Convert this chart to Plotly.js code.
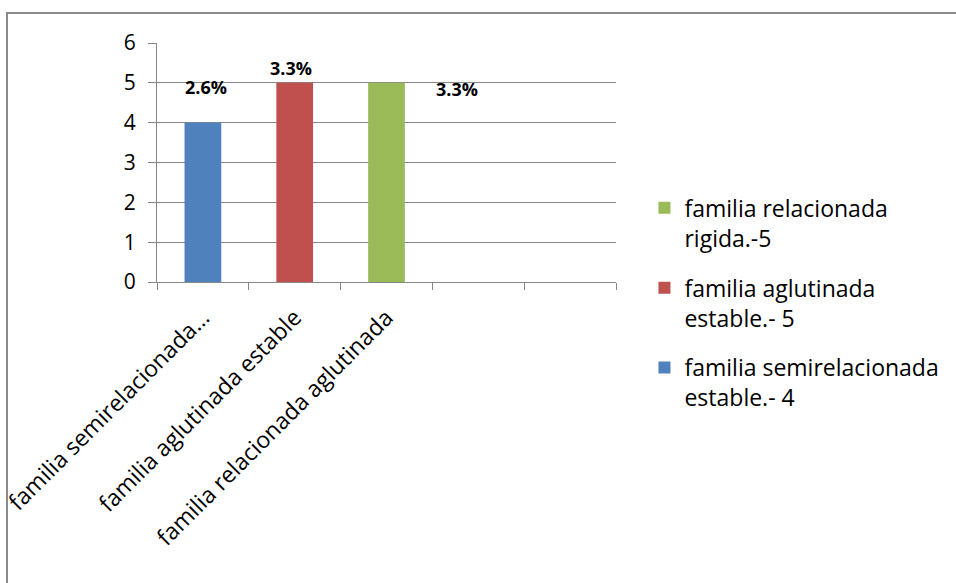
<!DOCTYPE html>
<html>
<head>
<meta charset="utf-8">
<script src="https://cdn.plot.ly/plotly-3.0.1.min.js"></script>
<style>
  html, body { margin: 0; padding: 0; background: #ffffff; }
  #chart { width: 956px; height: 583px; }
  #frame { position: absolute; left: 6px; top: 12px; width: 1200px; height: 1200px;
           border-left: 2px solid #8a8a8a; border-top: 2px solid #8a8a8a; pointer-events: none; }
</style>
</head>
<body>
<div id="chart"></div>
<div id="frame"></div>
<script>
// ---- data ----
var categories = ["familia semirelacionada\u2026", "familia aglutinada estable", "familia relacionada aglutinada"];
var emptyCategories = [" ", "  "];   // two unlabeled, empty category slots on the axis
var values = [4, 5, 5];
var seriesNames = ["familia semirelacionada<br>estable.- 4", "familia aglutinada<br>estable.- 5", "familia relacionada<br>rigida.-5"];
var pctLabels = ["2.6%", "3.3%", "3.3%"];
var colors = ["#4F81BD", "#C0504D", "#9BBB59"];
// label placement offsets (pixels) for the hand-placed data labels
var labelDx = [3, -4, 70];
var labelDy = [36, 15, -6];

var FONT = "'Open Sans', Lato, sans-serif";
var GRID = "#868686";
var axisCategories = categories.concat(emptyCategories);

// traces built last-to-first so the legend lists green, red, blue (top to bottom)
var traces = [];
for (var i = categories.length - 1; i >= 0; i--) {
  traces.push({
    type: "bar",
    x: [categories[i]],
    y: [values[i]],
    name: seriesNames[i],
    legendgroup: "g" + i,
    width: 0.4,
    marker: { color: colors[i] },
    hoverinfo: "x+y"
  });
}

var annotations = categories.map(function (c, i) {
  return {
    x: i, y: values[i], xref: "x", yref: "y",
    text: "<b>" + pctLabels[i] + "</b>",
    showarrow: false,
    xanchor: "center", yanchor: "middle",
    xshift: labelDx[i], yshift: labelDy[i],
    font: { family: FONT, size: 18, color: "#000000" }
  };
});

var layout = {
  width: 956, height: 583,
  margin: { l: 157, r: 336, t: 43, b: 301, pad: 0 },
  paper_bgcolor: "#ffffff",
  plot_bgcolor: "#ffffff",
  barmode: "overlay",
  showlegend: true,
  font: { family: FONT, color: "#000000" },
  xaxis: {
    type: "category",
    categoryorder: "array",
    categoryarray: axisCategories,
    range: [-0.5, axisCategories.length - 0.5],
    tickson: "boundaries",
    showgrid: false,
    showline: true, linecolor: GRID, linewidth: 1,
    ticks: "outside", ticklen: 7, tickcolor: GRID,
    tickangle: -45,
    ticklabelstandoff: 12,
    tickfont: { family: FONT, size: 23, color: "#000000" },
    zeroline: false,
    fixedrange: true
  },
  yaxis: {
    range: [0, 6],
    dtick: 1,
    showgrid: true, gridcolor: GRID, gridwidth: 1,
    showline: true, linecolor: GRID, linewidth: 1,
    ticks: "outside", ticklen: 8, tickcolor: GRID,
    ticklabelstandoff: 8,
    tickfont: { family: FONT, size: 21, color: "#000000" },
    zeroline: false,
    fixedrange: true
  },
  legend: {
    x: 1.062, xanchor: "left",
    y: 0.40, yanchor: "top",
    traceorder: "grouped",
    tracegroupgap: 17,
    valign: "top",
    font: { family: FONT, size: 23, color: "#000000" },
    bgcolor: "rgba(0,0,0,0)"
  },
  annotations: annotations
};

Plotly.newPlot("chart", traces, layout, { displayModeBar: false, staticPlot: true });
</script>
</body>
</html>
